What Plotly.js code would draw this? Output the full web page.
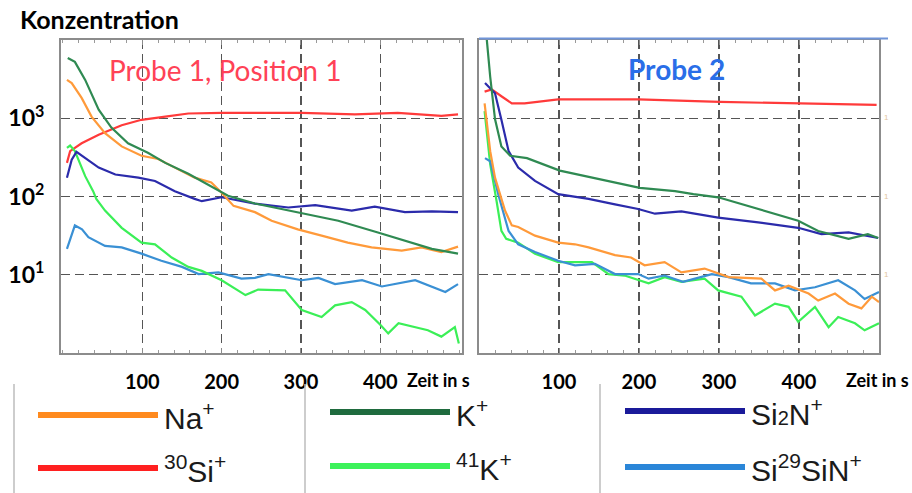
<!DOCTYPE html>
<html>
<head>
<meta charset="utf-8">
<script src="https://cdn.plot.ly/plotly-3.0.1.min.js"></script>
<style>html,body{margin:0;padding:0;background:#fff;}#chart{width:912px;height:493px;}</style>
</head>
<body>
<div id="chart"></div>
<script>
// ---------- Data (time in s, concentration) ----------
// Probe 1, Position 1
const P1_NA_T = [5,11,23.5,36,53,74,99,120,141,166,187,200,215,242,263,296,326,359,389,427,452,477,498];
const P1_NA_C = [3090,2820,1820,1050,646,437,331,302,234,174,151,112,75.9,63.1,49.0,38.0,31.6,25.7,22.4,20.4,22.4,19.5,22.9];
const P1_K_T = [6,15,28,45,61,82,107,129,158,187,208,242,296,347,397,431,465,498];
const P1_K_C = [5890,5250,3090,1290,759,479,363,269,195,135,102,81.3,63.1,49.0,34.7,27.5,21.4,18.6];
const P1_SI30_T = [5,9,23.5,45,74,99,129,158,200,242,301,368,422,477,498];
const P1_SI30_C = [269,380,479,617,813,955,1050,1150,1170,1170,1170,1120,1170,1070,1120];
const P1_SI2N_T = [5,11,17,28,45,66,95,116,141,166,175,200,242,284,318,364,393,431,465,498];
const P1_SI2N_C = [174,295,372,309,234,191,174,158,117,93.3,87.1,97.7,81.3,72.4,77.6,66.1,74.1,63.1,64.6,63.1];
const P1_K41_T = [5,9,15,28,38,42,53,74,99,116,137,158,175,200,230,246,280,301,326,343,364,381,400,410,423,444,460,477,494,499];
const P1_K41_C = [417,447,380,182,117,93.3,66.1,39.8,25.7,24.5,16.6,12.6,11.2,8.51,5.50,6.46,6.31,3.55,2.88,4.07,4.47,3.55,2.29,1.78,2.40,2.14,1.95,1.62,2.14,1.32];
const P1_SI29_T = [5,15,24,32,53,74,99,124,150,171,196,225,242,259,301,322,343,377,402,444,482,498];
const P1_SI29_C = [21.4,42.7,38.0,30.2,23.4,22.4,18.6,15.1,12.6,10.2,10.7,8.91,9.12,10.2,8.51,9.12,7.59,8.51,7.08,8.51,6.03,7.59];

// Probe 2
const P2_SI30_T = [7,16,28,41,57,99,145,199,301,401,497];
const P2_SI30_C = [2190,2340,1910,1550,1550,1740,1740,1740,1620,1550,1480];
const P2_K_T = [8,14,20,28,39,60,101,143,201,245,268,299,349,399,424,462,486,499];
const P2_K_C = [15800,3390,977,437,331,309,214,174,129,117,107,97.7,69.2,49.0,36.3,28.8,33.1,29.5];
const P2_SI2N_T = [7.5,20,28,37,49,70,99,137,170,199,220,253,299,349,399,428,462,499];
const P2_SI2N_C = [2820,2090,955,380,234,158,107,93.3,79.4,69.2,60.3,64.6,53.7,46.8,39.8,33.1,34.7,29.5];
const P2_NA_T = [7,14,20,32.5,41,49,70,99,120,137,170,190,207,232,253,282,312,353,370,387,412,424,445,462,478,491,500];
const P2_NA_C = [1550,380,174,66.1,42.7,40.7,31.6,25.7,24.5,22.4,17.8,16.6,13.2,14.5,10.7,12.0,9.33,8.91,6.31,7.24,5.75,4.68,5.75,4.27,3.72,5.25,4.47];
const P2_K41_T = [7,14,22,28,34,49,70,99,141,162,182,212,232,253,282,299,328,345,370,387,399,420,437,449,470,482,500];
const P2_K41_C = [1230,257,87.1,36.3,28.8,25.7,18.6,14.5,14.5,10.2,9.77,7.76,9.33,8.13,8.91,6.31,5.25,3.02,4.27,3.89,2.51,3.89,2.14,2.88,2.40,1.95,2.40];
const P2_SI29_T = [7.5,14,24,37,49,70,99,120,145,170,199,212,232,255,270,291,312,340,370,395,420,449,470,482,500];
const P2_SI29_C = [309,282,107,36.3,24.5,19.5,15.1,13.2,13.8,10.2,10.2,8.91,9.77,8.13,8.91,10.2,9.33,7.76,7.76,6.31,6.92,8.51,6.31,4.90,6.03];

const X_TICKS = [100,200,300,400];
const X_TICKTEXT = ['<b>100</b>','<b>200</b>','<b>300</b>','<b>400</b>'];
const Y_TICKS = [10,100,1000];
const Y_TICKTEXT = ['<b>10<sup>1</sup></b>','<b>10<sup>2</sup></b>','<b>10<sup>3</sup></b>'];
const PANEL_TITLES = ['Probe 1, Position 1','Probe 2'];
const SERIES_NAMES = ['Na<sup>+</sup>','K<sup>+</sup>','Si<span style="font-size:20px">2</span>N<sup>+</sup>',
                      '<sup>30</sup>Si<sup>+</sup>','<sup>41</sup>K<sup>+</sup>','Si<sup>29</sup>SiN<sup>+</sup>'];

// ---------- Styles ----------
const COL = {na:'#ff9a3a', k:'#2f8a52', si2n:'#2b2bab', si30:'#ff3a3a', k41:'#3bef57', si29:'#3a90d4'};
const LEGCOL = ['#ff8a1e','#1f6b3e','#1a1a9a','#ff2020','#3cf25a','#2a86d8'];
const FONT_B = 'Lato, Open Sans, sans-serif';

function tr(t, c, color, xa, ya){
  return {x:t, y:c, xaxis:xa, yaxis:ya, type:'scatter', mode:'lines',
          line:{color:color, width:2.2}, hoverinfo:'skip', showlegend:false};
}
const data = [
  tr(P1_SI30_T,P1_SI30_C,COL.si30,'x','y'),
  tr(P1_SI29_T,P1_SI29_C,COL.si29,'x','y'),
  tr(P1_K41_T,P1_K41_C,COL.k41,'x','y'),
  tr(P1_SI2N_T,P1_SI2N_C,COL.si2n,'x','y'),
  tr(P1_NA_T,P1_NA_C,COL.na,'x','y'),
  tr(P1_K_T,P1_K_C,COL.k,'x','y'),
  tr(P2_SI30_T,P2_SI30_C,COL.si30,'x2','y2'),
  tr(P2_K41_T,P2_K41_C,COL.k41,'x2','y2'),
  tr(P2_SI29_T,P2_SI29_C,COL.si29,'x2','y2'),
  tr(P2_NA_T,P2_NA_C,COL.na,'x2','y2'),
  tr(P2_SI2N_T,P2_SI2N_C,COL.si2n,'x2','y2'),
  tr(P2_K_T,P2_K_C,COL.k,'x2','y2')
];

const W = 912, H = 493;
const px = v => v / W;
const py = v => (H - v) / H;

const baseX = {
  tickvals:X_TICKS, ticktext:X_TICKTEXT, showgrid:true, gridcolor:'#555', gridwidth:1.2, griddash:'9px,5px',
  showline:true, linecolor:'#8c8c8c', linewidth:2, mirror:'ticks', ticks:'inside', ticklen:5, tickcolor:'#8c8c8c',
  minor:{ticks:'inside', ticklen:3, dtick:20, tickcolor:'#9a9a9a', showgrid:false},
  zeroline:false, ticklabelstandoff:10,
  tickfont:{family:FONT_B, size:20, color:'#000'}, fixedrange:true
};
const baseY = {
  type:'log', range:[0,4], domain:[py(353), py(40)], tickvals:Y_TICKS, showgrid:true, gridcolor:'#555',
  gridwidth:1.2, griddash:'9px,5px', showline:true, linecolor:'#8c8c8c', linewidth:2, mirror:true,
  ticks:'', zeroline:false, fixedrange:true
};

const layout = {
  width:W, height:H, margin:{l:0,r:0,t:0,b:0}, paper_bgcolor:'#fff', plot_bgcolor:'#fff', showlegend:false,
  xaxis:Object.assign({}, baseX, {domain:[px(61), px(462)], range:[-2.5,503], anchor:'y'}),
  xaxis2:Object.assign({}, baseX, {domain:[px(479), px(879)], range:[0,500], anchor:'y2'}),
  yaxis:Object.assign({}, baseY, {anchor:'x', ticktext:Y_TICKTEXT, showticklabels:true, ticklabelstandoff:10,
        tickfont:{family:FONT_B, size:23, color:'#000'}}),
  yaxis2:Object.assign({}, baseY, {anchor:'x2', showticklabels:false}),
  shapes:[], annotations:[]
};

// blue top edge of right panel
layout.shapes.push({type:'line', xref:'paper', yref:'paper', x0:px(479), x1:px(888), y0:py(38.5), y1:py(38.5),
  line:{color:'#6f94d8', width:2}});

// legend separators
[14, 305, 600].forEach(x => layout.shapes.push({type:'line', xref:'paper', yref:'paper',
  x0:px(x), x1:px(x), y0:py(384), y1:py(493), line:{color:'#bdbdbd', width:1.5}}));

// legend samples + text
const LEG_X = [38, 330, 625, 38, 330, 625];
const LEG_Y = [415, 412, 411, 468, 466, 467];
SERIES_NAMES.forEach((name, i) => {
  layout.shapes.push({type:'line', xref:'paper', yref:'paper', x0:px(LEG_X[i]), x1:px(LEG_X[i]+120),
    y0:py(LEG_Y[i]), y1:py(LEG_Y[i]), line:{color:LEGCOL[i], width:6}});
  layout.annotations.push({xref:'paper', yref:'paper', x:px(LEG_X[i]+124), y:py(LEG_Y[i]+1), xanchor:'left', yanchor:'middle',
    text:name, showarrow:false, font:{family:'Liberation Sans, Arial, sans-serif', size:30, color:'#1a1a1a'}});
});

// texts
layout.annotations.push(
  {xref:'paper', yref:'paper', x:px(18), y:py(19), xanchor:'left', yanchor:'middle', showarrow:false,
   text:'<b>Konzentration</b>', font:{family:FONT_B, size:25, color:'#000'}},
  {xref:'paper', yref:'paper', x:px(225), y:py(70), xanchor:'center', yanchor:'middle', showarrow:false,
   text:PANEL_TITLES[0], font:{family:FONT_B, size:28, color:'#ff4256'}},
  {xref:'paper', yref:'paper', x:px(676), y:py(69), xanchor:'center', yanchor:'middle', showarrow:false,
   text:'<b>'+PANEL_TITLES[1]+'</b>', font:{family:FONT_B, size:28, color:'#2a6ee8'}},
  {xref:'paper', yref:'paper', x:px(438), y:py(380), xanchor:'center', yanchor:'middle', showarrow:false,
   text:'<b>Zeit in s</b>', font:{family:FONT_B, size:18, color:'#000'}},
  {xref:'paper', yref:'paper', x:px(877), y:py(380), xanchor:'center', yanchor:'middle', showarrow:false,
   text:'<b>Zeit in s</b>', font:{family:FONT_B, size:18, color:'#000'}}
);
[118, 196, 274].forEach(y => layout.annotations.push({xref:'paper', yref:'paper', x:px(886), y:py(y),
  xanchor:'center', yanchor:'middle', showarrow:false, text:'1', font:{family:'Liberation Sans', size:8, color:'#e2c49a'}}));

Plotly.newPlot('chart', data, layout, {staticPlot:true, displayModeBar:false});
</script>
</body>
</html>
